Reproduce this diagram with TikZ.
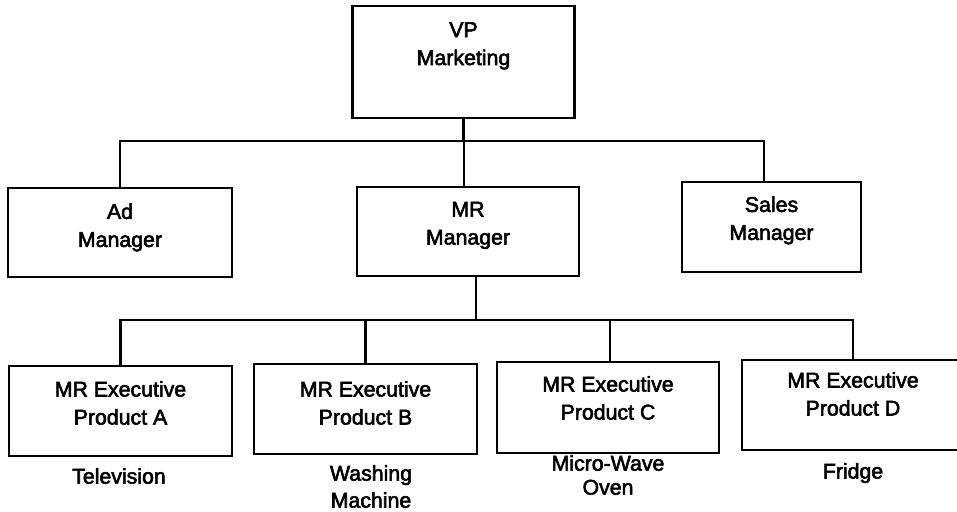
\documentclass[tikz,border=0pt]{standalone}
\usepackage{fontspec}
\setmainfont{Liberation Sans}[BoldFont=Liberation Sans, BoldFeatures={FakeBold=2.6}]
\begin{document}
\begin{tikzpicture}[x=1pt,y=-1pt,
  box/.style={draw=black, line width=2.2pt, minimum width=222pt, minimum height=90pt, inner sep=0pt},
  boxtext/.style={align=center, font=\bfseries\fontsize{21.3}{28}\selectfont, inner sep=0pt},
  caption/.style={align=center, font=\bfseries\fontsize{21.3}{26}\selectfont, inner sep=0pt},
  conn/.style={line width=2.2pt, line cap=rect}]
  \useasboundingbox (0,0) rectangle (957,511);

  % boxes
  \node[box, minimum height=112pt] (vp) at (463.5,62) {};
  \node[box, minimum width=224pt, minimum height=89pt] (ad) at (120,232.5) {};
  \node[box, minimum height=89pt] (mr) at (468,231.5) {};
  \node[box, minimum width=179pt] (sales) at (771.5,227) {};
  \node[box, minimum width=223pt] (pa) at (120.5,411) {};
  \node[box, minimum width=223pt] (pb) at (365.5,409) {};
  \node[box, minimum height=91pt] (pc) at (608,407.5) {};
  \node[box] (pd) at (853,405) {};

  % box titles
  \node[boxtext] (vpt) at ([yshift=-41pt]vp.north) {VP\\Marketing};
  \node[boxtext] (adt) at ([yshift=-40.5pt]ad.north) {Ad\\Manager};
  \node[boxtext] (mrt) at ([yshift=-39.5pt]mr.north) {MR\\Manager};
  \node[boxtext] (salest) at ([yshift=-39.5pt]sales.north) {Sales\\Manager};
  \node[boxtext] (pat) at ([yshift=-38pt]pa.north) {MR Executive\\Product A};
  \node[boxtext] (pbt) at ([yshift=-40pt]pb.north) {MR Executive\\Product B};
  \node[boxtext] (pct) at ([yshift=-37pt]pc.north) {MR Executive\\Product C};
  \node[boxtext] (pdt) at ([yshift=-35pt]pd.north) {MR Executive\\Product D};

  % product captions
  \node[caption] (capa) at (119,476) {Television};
  \node[caption, font=\bfseries\fontsize{21.3}{27}\selectfont] (capb) at (371,486.5) {Washing\\Machine};
  \node[caption, font=\bfseries\fontsize{21.3}{24}\selectfont] (capc) at (608,475) {Micro-Wave\\Oven};
  \node[caption] (capd) at (853,473) {Fridge};

  % bus lines
  \coordinate (topbus) at (0,141);
  \coordinate (lowbus) at (0,320);

  % upper level connectors
  \draw[conn] (vp.south) -- (vp.south |- topbus);
  \draw[conn] (ad.north) -- (ad.north |- topbus)
              -- ([xshift=-7.5pt]sales.north |- topbus) -- ([xshift=-7.5pt]sales.north);
  \draw[conn] ([xshift=-4pt]mr.north |- topbus) -- ([xshift=-4pt]mr.north);

  % lower level connectors
  \draw[conn] ([xshift=8pt]mr.south) -- ([xshift=8pt]mr.south |- lowbus);
  \draw[conn] (pa.north) -- (pa.north |- lowbus) -- (pd.north |- lowbus) -- (pd.north);
  \draw[conn] (pb.north |- lowbus) -- (pb.north);
  \draw[conn] ([xshift=2pt]pc.north |- lowbus) -- ([xshift=2pt]pc.north);
\end{tikzpicture}
\end{document}
